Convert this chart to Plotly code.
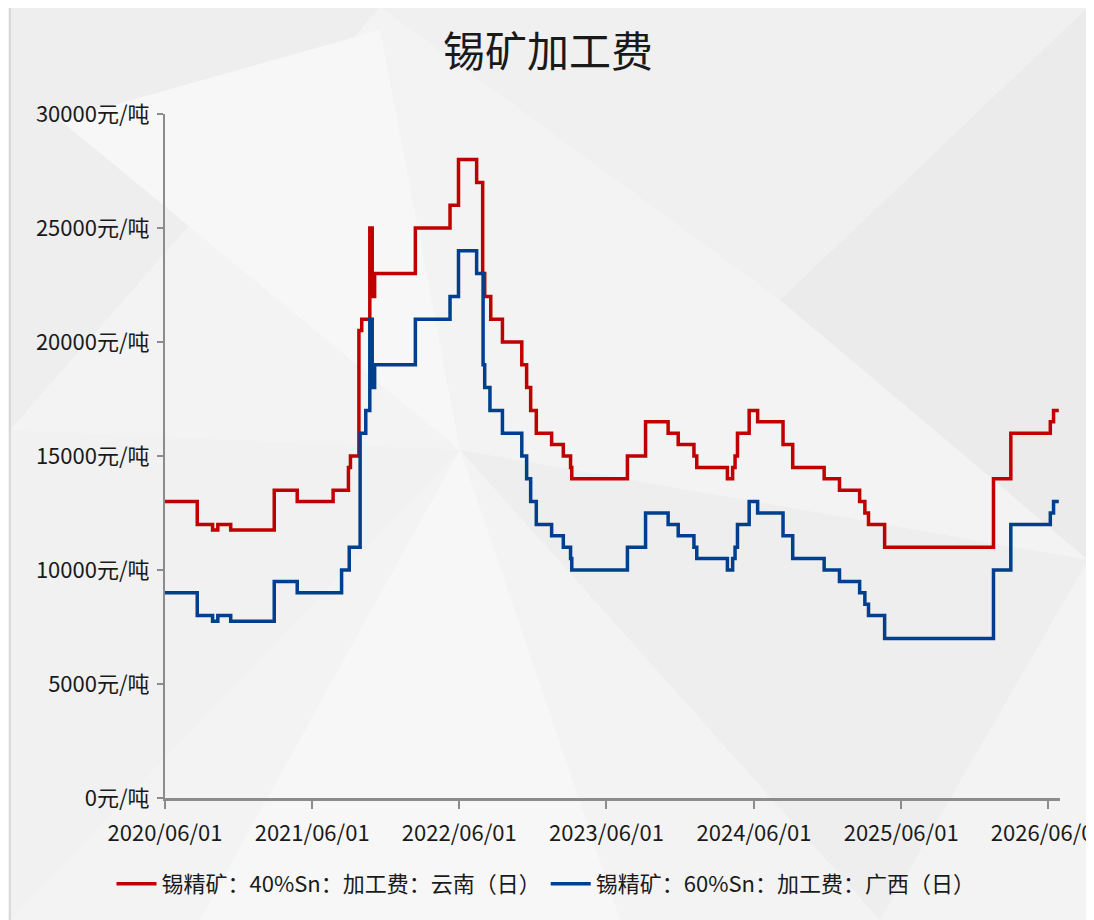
import plotly.graph_objects as go

# ---------------- data ----------------
yunnan_dates = [
    "2020-06-01", "2020-08-20", "2020-09-27", "2020-10-10", "2020-11-11",
    "2021-02-27", "2021-04-25", "2021-07-23", "2021-08-30", "2021-09-04",
    "2021-09-25", "2021-10-02", "2021-10-22", "2021-10-28", "2021-11-03",
    "2022-02-12", "2022-05-09", "2022-05-30", "2022-07-14", "2022-07-29",
    "2022-08-03", "2022-08-18", "2022-09-16", "2022-11-03", "2022-11-15",
    "2022-11-25", "2022-12-09", "2023-01-16", "2023-02-14", "2023-03-04",
    "2023-03-07", "2023-07-23", "2023-09-06", "2023-11-01", "2023-11-26",
    "2024-01-04", "2024-01-11", "2024-03-27", "2024-04-09", "2024-04-15",
    "2024-04-21", "2024-05-20", "2024-06-10", "2024-08-12", "2024-09-05",
    "2024-11-22", "2024-12-30", "2025-02-18", "2025-03-03", "2025-03-12",
    "2025-04-21", "2026-01-16", "2026-02-28", "2026-06-06", "2026-06-14",
    "2026-06-27",
]
yunnan_values = [
    13000, 12000, 11750, 12000, 11750,
    13500, 13000, 13500, 14500, 15000,
    20500, 21000, 25000, 22000, 23000,
    25000, 26000, 28000, 27000, 23000,
    22000, 21000, 20000, 19000, 18000,
    17000, 16000, 15500, 15000, 14500,
    14000, 15000, 16500, 16000, 15500,
    15000, 14500, 14000, 14500, 15000,
    16000, 17000, 16500, 15500, 14500,
    14000, 13500, 13000, 12500, 12000,
    11000, 14000, 16000, 16500, 17000,
    17000,
]

guangxi_dates = [
    "2020-06-01", "2020-08-20", "2020-09-27", "2020-10-10", "2020-11-11",
    "2021-02-27", "2021-04-25", "2021-08-13", "2021-09-01", "2021-09-28",
    "2021-10-12", "2021-10-22", "2021-10-28", "2021-11-03", "2022-02-12",
    "2022-05-09", "2022-05-30", "2022-07-14", "2022-07-30", "2022-08-03",
    "2022-08-16", "2022-09-16", "2022-11-03", "2022-11-15", "2022-11-25",
    "2022-12-09", "2023-01-16", "2023-02-14", "2023-03-04", "2023-03-07",
    "2023-07-23", "2023-09-06", "2023-11-01", "2023-11-26", "2024-01-04",
    "2024-01-11", "2024-03-27", "2024-04-09", "2024-04-15", "2024-04-21",
    "2024-05-20", "2024-06-10", "2024-08-12", "2024-09-05", "2024-11-22",
    "2024-12-30", "2025-02-18", "2025-03-03", "2025-03-12", "2025-04-21",
    "2026-01-16", "2026-02-28", "2026-06-06", "2026-06-14", "2026-06-27",
]
guangxi_values = [
    9000, 8000, 7750, 8000, 7750,
    9500, 9000, 10000, 11000, 16000,
    17000, 21000, 18000, 19000, 21000,
    22000, 24000, 23000, 19000, 18000,
    17000, 16000, 15000, 14000, 13000,
    12000, 11500, 11000, 10500, 10000,
    11000, 12500, 12000, 11500, 11000,
    10500, 10000, 10500, 11000, 12000,
    13000, 12500, 11500, 10500, 10000,
    9500, 9000, 8500, 8000, 7000,
    10000, 12000, 12500, 13000, 13000,
]

series_names = ["锡精矿：40%Sn：加工费：云南（日）", "锡精矿：60%Sn：加工费：广西（日）"]
x_tick_vals = ["2020-06-01", "2021-06-01", "2022-06-01", "2023-06-01",
               "2024-06-01", "2025-06-01", "2026-06-01"]
x_tick_text = ["2020/06/01", "2021/06/01", "2022/06/01", "2023/06/01",
               "2024/06/01", "2025/06/01", "2026/06/01"]
y_tick_vals = [0, 5000, 10000, 15000, 20000, 25000, 30000]
y_tick_text = [f"{v}元/吨" for v in y_tick_vals]
title_text = "锡矿加工费"

# ---------------- layout geometry ----------------
OFF = 8                      # page body margin
W, H = 1086, 912
ML, MR, MT, MB = 157, 34, 106, 122
PW, PH = W - ML - MR, H - MT - MB

def px(xp, yp):
    """page pixel -> paper coords"""
    return (xp - OFF - ML) / PW, (H - MB - (yp - OFF)) / PH

def poly(points, color):
    pts = [px(a, b) for a, b in points]
    path = "M " + " L ".join(f"{a:.4f},{b:.4f}" for a, b in pts) + " Z"
    return dict(type="path", xref="paper", yref="paper", path=path,
                fillcolor=color, line=dict(width=0), layer="below")

# subtle low-poly background decoration
bg_shapes = [
    poly([(10, 7), (380, 7), (10, 430)], "#eeeeee"),
    poly([(380, 7), (1088, 7), (780, 300)], "#f0f0f0"),
    poly([(780, 300), (1088, 7), (1088, 560)], "#ebebeb"),
    poly([(10, 430), (460, 450), (10, 920)], "#f1f1f1"),
    poly([(460, 450), (1088, 560), (880, 920)], "#eeeeee"),
    poly([(200, 920), (460, 450), (620, 920)], "#f7f7f7"),
    poly([(60, 120), (380, 30), (460, 450)], "#f7f7f7"),
]
fx0, fy0 = px(10, 7)
fx1, fy1 = px(1088, 930)
frame = dict(type="rect", xref="paper", yref="paper", x0=fx0, y0=fy1, x1=fx1, y1=fy0,
             line=dict(color="#d9d9d9", width=2), fillcolor="rgba(0,0,0,0)", layer="below")

fig = go.Figure()
fig.add_trace(go.Scatter(x=yunnan_dates, y=yunnan_values, mode="lines", name=series_names[0],
                         line=dict(color="#C00000", width=3.5, shape="hv")))
fig.add_trace(go.Scatter(x=guangxi_dates, y=guangxi_values, mode="lines", name=series_names[1],
                         line=dict(color="#003F8E", width=3.5, shape="hv")))

axis_font = dict(family="Noto Sans CJK SC, sans-serif", size=22, color="#1a1a1a")

fig.update_layout(
    width=W, height=H, autosize=False,
    margin=dict(l=ML, r=MR, t=MT, b=MB, autoexpand=False),
    paper_bgcolor="#f3f3f3", plot_bgcolor="rgba(0,0,0,0)",
    title=dict(text=title_text, x=(548 - OFF) / W, xref="container", xanchor="center",
               y=1 - (52 - OFF) / H, yref="container", yanchor="middle",
               font=dict(family="Noto Sans CJK SC, sans-serif", size=42, color="#1a1a1a")),
    showlegend=True,
    legend=dict(orientation="h", xref="container", yref="container",
                x=(546 - OFF) / W, xanchor="center", y=1 - (884 - OFF) / H, yanchor="middle",
                font=dict(family="Noto Sans CJK SC, sans-serif", size=22, color="#1a1a1a"),
                bgcolor="rgba(0,0,0,0)", itemwidth=40, tracegroupgap=0),
    shapes=bg_shapes + [frame],
    xaxis=dict(type="date", range=["2020-06-01", "2026-06-30"],
               tickmode="array", tickvals=x_tick_vals, ticktext=x_tick_text,
               showgrid=False, zeroline=False, automargin=False,
               showline=True, linecolor="#8c8c8c", linewidth=3,
               ticks="outside", ticklen=8, tickwidth=2, tickcolor="#8c8c8c",
               ticklabelstandoff=6, ticklabeloverflow="allow", tickfont=axis_font),
    yaxis=dict(range=[0, 30000], tickmode="array", tickvals=y_tick_vals, ticktext=y_tick_text,
               showgrid=False, zeroline=False, automargin=False,
               showline=True, linecolor="#8c8c8c", linewidth=2,
               ticks="outside", ticklen=6, tickwidth=2, tickcolor="#8c8c8c",
               ticklabelstandoff=3, tickfont=axis_font),
)

fig.write_html("out.html")
